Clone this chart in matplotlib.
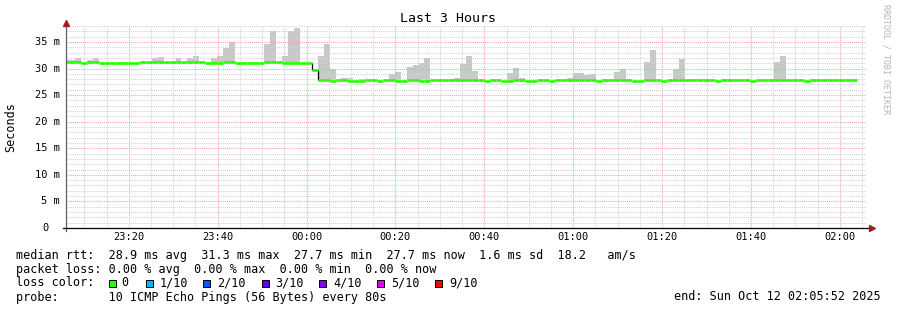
import matplotlib
matplotlib.use("Agg")
import matplotlib.pyplot as plt
from matplotlib.ticker import MultipleLocator, FuncFormatter
from matplotlib.transforms import Affine2D, blended_transform_factory
from matplotlib.patches import Rectangle
from matplotlib.lines import Line2D

W, H = 897, 310
MONO = "DejaVu Sans Mono"

# smokeping data: one value per 80 s step, first step starts 23:05:11
step_sec = 80
first_step = "23:05:11"
graph_end = "02:05:52"

# median rtt (ms) per step
median_ms = [
    31.2, 31.2, 31.2, 31.0, 31.2, 31.2, 31.05, 31.05, 31.05, 31.05,
    31.05, 31.05, 31.05, 31.2, 31.2, 31.2, 31.2, 31.2, 31.2, 31.2,
    31.2, 31.2, 31.2, 31.2, 31.05, 31.05, 31.05, 31.2, 31.2, 31.05,
    31.05, 31.05, 31.05, 31.05, 31.2, 31.2, 31.2, 31.1, 31.1, 31.1,
    31.1, 31.1, 29.8, 27.85, 27.85, 27.65, 27.85, 27.85, 27.65, 27.65,
    27.65, 27.85, 27.85, 27.65, 27.85, 27.85, 27.65, 27.65, 27.85, 27.85,
    27.65, 27.65, 27.85, 27.85, 27.85, 27.85, 27.85, 27.85, 27.85, 27.85,
    27.85, 27.65, 27.85, 27.85, 27.65, 27.65, 27.85, 27.85, 27.65, 27.65,
    27.85, 27.85, 27.65, 27.85, 27.85, 27.85, 27.85, 27.85, 27.85, 27.85,
    27.65, 27.85, 27.85, 27.85, 27.85, 27.85, 27.65, 27.65, 27.85, 27.85,
    27.85, 27.65, 27.85, 27.85, 27.85, 27.85, 27.85, 27.85, 27.85, 27.85,
    27.65, 27.85, 27.85, 27.85, 27.85, 27.85, 27.65, 27.85, 27.85, 27.85,
    27.85, 27.85, 27.85, 27.85, 27.85, 27.65, 27.85, 27.85, 27.85, 27.85,
    27.85, 27.85, 27.85, 27.85,
]

# slowest ping of each step (top of the smoke), ms
smoke_max_ms = [
    31.6, 31.6, 31.9, 31.0, 31.6, 31.9, 31.05, 31.05, 31.05, 31.05,
    31.05, 31.05, 31.05, 31.2, 31.2, 31.9, 32.1, 31.2, 31.2, 31.9,
    31.2, 31.9, 32.3, 31.2, 31.05, 31.9, 32.3, 33.8, 34.9, 31.05,
    31.05, 31.05, 31.05, 31.05, 34.6, 37.0, 31.2, 32.4, 37.1, 37.6,
    31.1, 31.1, 29.8, 32.4, 34.6, 30.0, 27.85, 28.2, 28.2, 27.65,
    28.0, 27.85, 27.85, 27.65, 27.85, 28.9, 29.4, 27.65, 30.2, 30.7,
    31.0, 31.9, 27.85, 27.85, 27.85, 28.1, 28.2, 30.9, 32.4, 29.6,
    27.85, 27.65, 27.85, 27.85, 27.65, 29.2, 30.1, 28.3, 27.65, 27.65,
    27.85, 27.85, 27.65, 27.85, 27.85, 28.3, 29.2, 29.2, 28.7, 28.9,
    27.65, 27.85, 27.85, 29.4, 30.0, 27.85, 27.65, 27.65, 31.2, 33.4,
    27.85, 27.65, 27.85, 29.9, 31.8, 27.85, 28.0, 27.85, 27.85, 27.85,
    27.65, 28.0, 27.85, 27.85, 27.85, 27.85, 27.65, 27.85, 27.85, 27.85,
    31.2, 32.4, 27.85, 27.85, 27.85, 27.65, 27.85, 27.85, 27.85, 27.85,
    27.85, 27.85, 27.85, 27.85,
]

y_ticks = [0, 5, 10, 15, 20, 25, 30, 35]

legend_rows = [
    "median rtt:  28.9 ms avg  31.3 ms max  27.7 ms min  27.7 ms now  1.6 ms sd  18.2   am/s",
    "packet loss: 0.00 % avg  0.00 % max  0.00 % min  0.00 % now",
    "loss color:",
    "probe:       10 ICMP Echo Pings (56 Bytes) every 80s",
]
loss_labels = ["0", "1/10", "2/10", "3/10", "4/10", "5/10", "9/10"]
loss_colors = ["#26ff00", "#00b8ff", "#0059ff", "#5e00ff", "#7e00ff", "#dd00ff", "#ff0000"]
end_label = "end: Sun Oct 12 02:05:52 2025"


def to_min(hms):
    # minutes relative to midnight, times before midnight are negative
    h, m, s = [int(v) for v in hms.split(":")]
    t = h * 60 + m + s / 60
    return t - 1440 if h >= 12 else t


def fmt_time(x, pos):
    m = int(round(x)) % 1440
    return f"{m // 60:02d}:{m % 60:02d}"


step_min = step_sec / 60
t0 = to_min(first_step)
t_end = to_min(graph_end)
starts = [t0 + i * step_min for i in range(len(median_ms))]
ends = [s + step_min for s in starts]

fig = plt.figure(figsize=(W / 100, H / 100), dpi=100)
fig.patch.set_facecolor("white")
# pixel coordinates measured from top-left
px = Affine2D().scale(1 / W, -1 / H).translate(0, 1) + fig.transFigure

ax = fig.add_axes([66 / W, (H - 228) / H, 800 / W, 202 / H])
ax.set_xlim(t_end - 180, t_end)
ax.set_ylim(0, 38.0)

# smoke
heights = [hi - lo for hi, lo in zip(smoke_max_ms, median_ms)]
ax.bar(starts, heights, width=step_min, bottom=median_ms, align="edge",
       color="#c8c8c8", linewidth=0, zorder=1)

# median: black connector where the level really jumps, green segments on top
for i in range(1, len(median_ms)):
    if abs(median_ms[i] - median_ms[i - 1]) > 0.5:
        ax.vlines(starts[i], median_ms[i - 1], median_ms[i], colors="black",
                  lw=0.9, zorder=2.8)
ax.hlines(median_ms, starts, ends, colors=loss_colors[0], lw=1.9,
          capstyle="butt", zorder=3)

# grid
ax.xaxis.set_major_locator(MultipleLocator(20))
ax.xaxis.set_minor_locator(MultipleLocator(5))
ax.yaxis.set_major_locator(MultipleLocator(5))
ax.yaxis.set_minor_locator(MultipleLocator(1))
ax.set_axisbelow(False)
ax.grid(which="major", color="#f4a4a4", lw=0.75, ls=(0, (1, 1)), zorder=2.5)
ax.grid(which="minor", color="#d2d2d2", lw=0.75, ls=(0, (1, 1)), zorder=2.4)

ax.xaxis.set_major_formatter(FuncFormatter(fmt_time))
ax.tick_params(axis="x", which="both", length=0, pad=3.0, labelsize=7.5)
for lab in ax.get_xticklabels():
    lab.set_fontfamily(MONO)
ax.tick_params(axis="y", which="both", length=0, labelleft=False)
for s in ax.spines.values():
    s.set_visible(False)
ax.patch.set_alpha(0)

# y labels, rrdtool style ("0" has no unit)
ylab_tr = blended_transform_factory(px, ax.transData)
for v in y_ticks:
    if v == 0:
        ax.text(49, v, "0", transform=ylab_tr, ha="right", va="center",
                fontsize=7.5, family=MONO)
    else:
        ax.text(60, v, f"{v} m", transform=ylab_tr, ha="right", va="center",
                fontsize=7.5, family=MONO)

# axes with arrows
arrow_col = "#a01e1e"
fig.add_artist(Line2D([66, 66], [231, 24], transform=px, color="#606060", lw=0.9))
fig.add_artist(Line2D([63, 873], [228, 228], transform=px, color="black", lw=0.9))
fig.add_artist(Line2D([66], [23], transform=px, marker="^", ms=5,
                      color=arrow_col, lw=0))
fig.add_artist(Line2D([872], [228], transform=px, marker=">", ms=5,
                      color=arrow_col, lw=0))

# texts
fig.text(448, 19, "Last 3 Hours", transform=px, ha="center", va="center",
         fontsize=9.5, family=MONO)
fig.text(11, 127, "Seconds", transform=px, ha="center", va="center",
         rotation=90, fontsize=8.5, family=MONO)
fig.text(886, 4, "RRDTOOL / TOBI OETIKER", transform=px, ha="center", va="top",
         rotation=270, fontsize=6, family=MONO, color="#b4b4b4")

row_y = [255, 269, 283, 297]
for txt, y in zip(legend_rows, row_y):
    fig.text(16, y, txt, transform=px, ha="left", va="center",
             fontsize=8.45, family=MONO)

box_x = [108.5, 145.5, 203, 261.5, 319, 377, 435]
label_x = [121.5, 159.5, 217, 275, 333, 391, 449]
for bx, lx, lab, col in zip(box_x, label_x, loss_labels, loss_colors):
    fig.add_artist(Rectangle((bx, 279.5), 7, 7, transform=px, facecolor=col,
                             edgecolor="black", lw=0.7))
    fig.text(lx, row_y[2], lab, transform=px, ha="left", va="center",
             fontsize=8.45, family=MONO)

fig.text(881, row_y[3], end_label, transform=px, ha="right", va="center",
         fontsize=8.45, family=MONO)

fig.savefig("out.png", dpi=100)
